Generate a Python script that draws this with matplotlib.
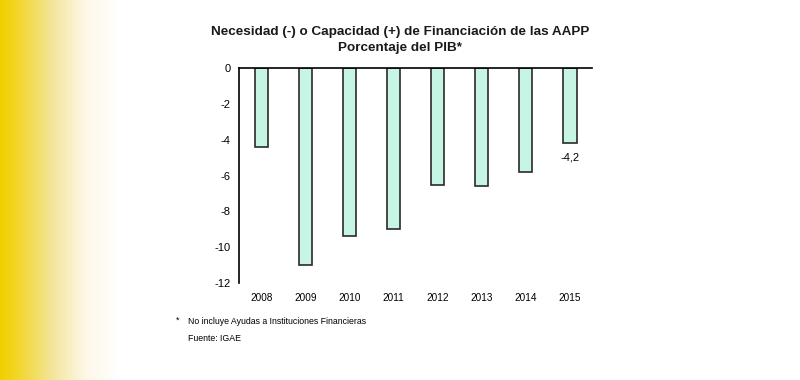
import numpy as np
import matplotlib.pyplot as plt
from matplotlib.colors import LinearSegmentedColormap

plt.rcParams["font.family"] = ["Liberation Sans", "DejaVu Sans"]

# data
years = ["2008", "2009", "2010", "2011", "2012", "2013", "2014", "2015"]
deficit = [-4.4, -11.0, -9.4, -9.0, -6.5, -6.6, -5.8, -4.2]
yticks = [0, -2, -4, -6, -8, -10, -12]

fig = plt.figure(figsize=(8, 3.8), dpi=100)
fig.patch.set_facecolor("white")

# yellow fade on the left edge
bg = fig.add_axes([0, 0, 0.15, 1])
fade = LinearSegmentedColormap.from_list(
    "fade", [(0, "#f0d000"), (0.12, "#f2d520"), (0.45, "#f4e6a0"), (0.72, "#fdf8e8"), (1, "#ffffff")])
bg.imshow(np.linspace(0, 1, 200)[None, :], aspect="auto", cmap=fade, extent=[0, 1, 0, 1])
bg.axis("off")

ax = fig.add_axes([0.299, 0.255, 0.441, 0.566])
x = np.arange(len(years))
ax.bar(x, deficit, width=0.3, color="#c6f5e4", edgecolor="#2a2a2a", linewidth=1.2)

ax.set_xlim(-0.5, 7.5)
ax.set_ylim(-12, 0)
ax.set_yticks(yticks)
ax.set_yticklabels([str(v) for v in yticks], fontsize=8)
ax.set_xticks(x)
ax.set_xticklabels(years, fontsize=7.2)
ax.tick_params(length=0, pad=6)
ax.tick_params(axis="x", pad=7)

for s in ["right", "bottom"]:
    ax.spines[s].set_visible(False)
ax.spines["top"].set_linewidth(1.2)
ax.spines["left"].set_linewidth(1.2)

ax.text(x[-1], deficit[-1] - 0.5, "-4,2", ha="center", va="top", fontsize=8)

fig.text(0.5, 0.915, "Necesidad (-) o Capacidad (+) de Financiación de las AAPP",
         ha="center", va="center", fontsize=9.7, fontweight="bold", color="#1a1a1a")
fig.text(0.5, 0.875, "Porcentaje del PIB*",
         ha="center", va="center", fontsize=9.7, fontweight="bold", color="#1a1a1a")

fig.text(0.222, 0.157, "*", ha="center", va="center", fontsize=6.5)
fig.text(0.235, 0.153, "No incluye Ayudas a Instituciones Financieras", ha="left", va="center", fontsize=6.3)
fig.text(0.235, 0.11, "Fuente: IGAE", ha="left", va="center", fontsize=6.3)

fig.savefig("out.png", dpi=100)
